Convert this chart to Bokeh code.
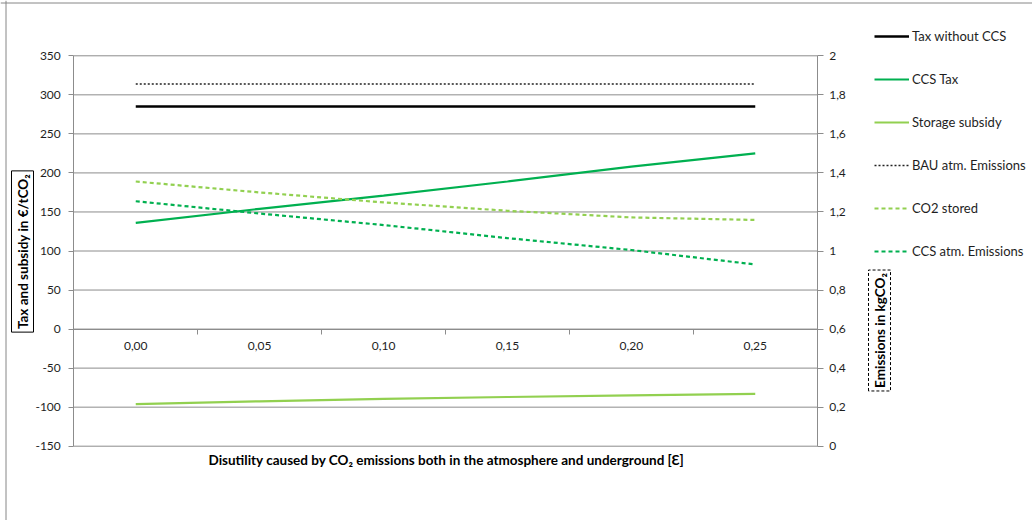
import math
from bokeh.plotting import figure
from bokeh.models import (Range1d, LinearAxis, FixedTicker, CustomJSTickFormatter,
                          Legend, LegendItem, Label, Span)
from bokeh.embed import file_html
from bokeh.resources import INLINE

# ---- data ----
x_vals = [0.00, 0.05, 0.10, 0.15, 0.20, 0.25]
tax_without_ccs = [285, 285, 285, 285, 285, 285]
ccs_tax = [136, 154, 171, 189, 208, 225]
storage_subsidy = [-96, -92.5, -89.5, -87, -85, -83]
bau_emissions = [1.855, 1.855, 1.855, 1.855, 1.855, 1.855]
co2_stored = [1.356, 1.300, 1.249, 1.206, 1.172, 1.159]
ccs_emissions = [1.255, 1.192, 1.133, 1.066, 1.005, 0.931]

series_names = ["Tax without CCS", "CCS Tax", "Storage subsidy",
                "BAU atm. Emissions", "CO2 stored", "CCS atm. Emissions"]

left_ticks = [-150, -100, -50, 0, 50, 100, 150, 200, 250, 300, 350]
right_ticks = [0, 0.2, 0.4, 0.6, 0.8, 1.0, 1.2, 1.4, 1.6, 1.8, 2.0]

FONT = "Lato"
GRAY = "#8c8c8c"
BORDER = "#868686"
TXT = "#1e1e1e"
DARK_GREEN = "#00b050"
LIGHT_GREEN = "#92d050"

# ---- layout: the frame fills the whole canvas; axes are pinned with fixed_location ----
W, H = 1032, 520
PX_LEFT, PX_RIGHT, PX_TOP, PX_BOTTOM = 73.3, 816.7, 55.3, 445.7

step = x_vals[1] - x_vals[0]
x_lo, x_hi = x_vals[0] - step / 2, x_vals[-1] + step / 2
x_boundaries = [x + step / 2 for x in x_vals[:-1]]
y_lo, y_hi = left_ticks[0], left_ticks[-1]
e_lo, e_hi = right_ticks[0], right_ticks[-1]

kx = (PX_RIGHT - PX_LEFT) / (x_hi - x_lo)
ky = (PX_BOTTOM - PX_TOP) / (y_hi - y_lo)
ke = (PX_BOTTOM - PX_TOP) / (e_hi - e_lo)

p = figure(width=W, height=H, title=None,
           x_range=Range1d(x_lo - PX_LEFT / kx, x_hi + (W - PX_RIGHT) / kx),
           y_range=Range1d(y_lo - (H - PX_BOTTOM) / ky, y_hi + PX_TOP / ky),
           output_backend="svg", toolbar_location=None,
           x_axis_location=None, y_axis_location=None, min_border=0)
p.outline_line_color = None
p.grid.visible = False
p.background_fill_color = "white"
p.border_fill_color = "white"
p.extra_y_ranges = {"em": Range1d(e_lo - (H - PX_BOTTOM) / ke, e_hi + PX_TOP / ke)}

# chart-area border (top and left edges visible in the reference)
p.add_layout(Span(location=H - 2.5, location_units="screen", dimension="width",
                  line_color=BORDER, line_width=1))
p.add_layout(Span(location=5.5, location_units="screen", dimension="height",
                  line_color=BORDER, line_width=1))

def style_axis(ax):
    ax.major_label_text_font = FONT
    ax.major_label_text_font_size = "12px"
    ax.major_label_text_color = TXT
    ax.minor_tick_line_color = None
    ax.axis_line_color = GRAY
    ax.major_tick_line_color = GRAY
    ax.major_tick_in = 0

# horizontal gridlines across the plot area, at the left-axis ticks
p.segment(x0=x_lo, x1=x_hi, y0=left_ticks, y1=left_ticks, line_color=GRAY, line_width=1)

# left axis
yl = LinearAxis(ticker=FixedTicker(ticks=left_ticks), fixed_location=x_lo, bounds=(y_lo, y_hi),
                formatter=CustomJSTickFormatter(code="return tick.toString();"))
style_axis(yl)
yl.major_tick_out = 5
yl.major_label_standoff = 8
p.add_layout(yl, "left")

# right axis
yr = LinearAxis(y_range_name="em", ticker=FixedTicker(ticks=right_ticks), fixed_location=x_hi,
                bounds=(e_lo, e_hi),
                formatter=CustomJSTickFormatter(code="return (Math.round(tick*10)/10).toString().replace('.', ',');"))
style_axis(yr)
yr.major_tick_out = 6
yr.major_label_standoff = 6
p.add_layout(yr, "right")

# x axis at y = 0: labels at category centres
xl = LinearAxis(ticker=FixedTicker(ticks=x_vals), fixed_location=0, bounds=(x_lo, x_hi),
                formatter=CustomJSTickFormatter(code="return tick.toFixed(2).replace('.', ',');"))
style_axis(xl)
xl.axis_line_color = None
xl.major_tick_line_color = None
xl.major_label_standoff = 7
p.add_layout(xl, "below")

# x axis tick marks at category boundaries
xt = LinearAxis(ticker=FixedTicker(ticks=x_boundaries), fixed_location=0, bounds=(x_lo, x_hi),
                formatter=CustomJSTickFormatter(code="return '';"))
style_axis(xt)
xt.major_tick_out = 5
p.add_layout(xt, "below")

# series
styles = [
    dict(line_color="black", line_width=2.5),
    dict(line_color=DARK_GREEN, line_width=2.2),
    dict(line_color=LIGHT_GREEN, line_width=2.2),
    dict(line_color="#222222", line_width=1.5, line_dash="2 2"),
    dict(line_color=LIGHT_GREEN, line_width=2.2, line_dash="4 3"),
    dict(line_color=DARK_GREEN, line_width=2.2, line_dash="4 3"),
]
r1 = p.line(x_vals, tax_without_ccs, **styles[0])
r2 = p.line(x_vals, ccs_tax, **styles[1])
r3 = p.line(x_vals, storage_subsidy, **styles[2])
r4 = p.line(x_vals, bau_emissions, y_range_name="em", **styles[3])
r5 = p.line(x_vals, co2_stored, y_range_name="em", **styles[4])
r6 = p.line(x_vals, ccs_emissions, y_range_name="em", **styles[5])

legend = Legend(items=[LegendItem(label=n, renderers=[r]) for n, r in
                       zip(series_names, [r1, r2, r3, r4, r5, r6])],
                location=(874, H - 261), orientation="vertical",
                label_height=20, glyph_height=20, glyph_width=35, spacing=23,
                padding=0, margin=0, border_line_color=None, background_fill_alpha=0,
                label_standoff=3, label_text_font=FONT, label_text_font_size="13px",
                label_text_color=TXT)
p.add_layout(legend)

# axis titles
p.add_layout(Label(x=22, y=H - 251, x_units="screen", y_units="screen",
                   text="Tax and subsidy in €/tCO₂", angle=math.pi / 2,
                   text_align="center", text_baseline="middle",
                   text_font=FONT, text_font_size="13.5px", text_font_style="bold", text_color="black",
                   border_line_color="black", border_line_width=1, padding=3,
                   background_fill_color="white"))
p.add_layout(Label(x=879, y=H - 330, x_units="screen", y_units="screen",
                   text="Emissions in kgCO₂", angle=math.pi / 2,
                   text_align="center", text_baseline="middle",
                   text_font=FONT, text_font_size="13.5px", text_font_style="bold", text_color="black",
                   border_line_color="black", border_line_width=1, border_line_dash="3 2", padding=3,
                   background_fill_color="white"))
p.add_layout(Label(x=446, y=H - 459, x_units="screen", y_units="screen",
                   text="Disutility caused by CO₂ emissions both in the atmosphere and underground [Ɛ]",
                   text_align="center", text_baseline="middle",
                   text_font=FONT, text_font_size="13.5px", text_font_style="bold", text_color="black"))

open("out.html", "w").write(file_html(p, INLINE))
